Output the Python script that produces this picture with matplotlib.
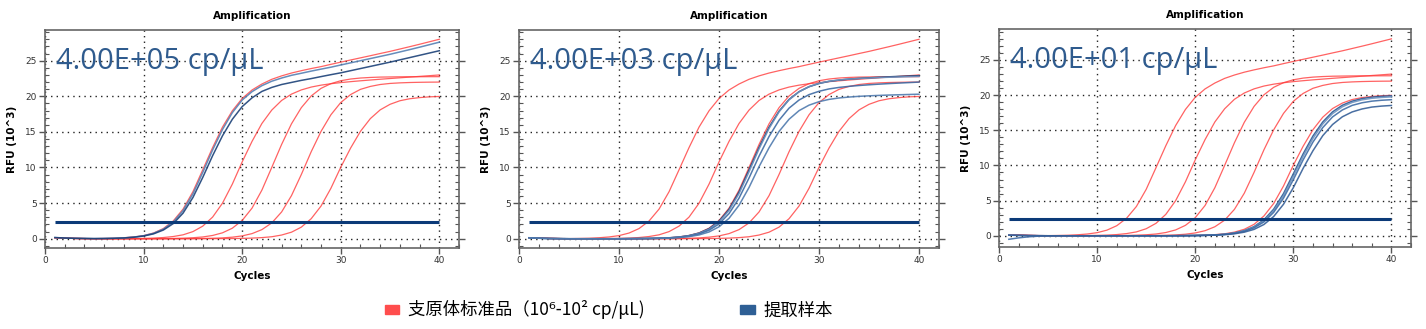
import numpy as np
import matplotlib.pyplot as plt
from matplotlib.patches import Patch
from matplotlib.ticker import MultipleLocator
from matplotlib.font_manager import FontProperties

plt.rcParams['font.family'] = ['DejaVu Sans']

cycles = np.arange(1, 41)
threshold = 2.4

# standard curves, 10^6 .. 10^2 cp/uL (RFU x 10^3 per cycle)
std_1e6 = [0.15, 0.08, 0.04, 0.03, 0.02, 0.04, 0.07, 0.14, 0.25, 0.44,
           0.80, 1.43, 2.49, 4.16, 6.60, 9.68, 12.80, 15.67, 17.96, 19.69,
           20.88, 21.72, 22.38, 22.86, 23.26, 23.59, 23.89, 24.16, 24.48, 24.79,
           25.09, 25.39, 25.69, 26.00, 26.30, 26.63, 26.96, 27.30, 27.65, 28.00]
std_1e5 = [0.15, 0.08, 0.04, 0.02, 0.00, 0.00, 0.01, 0.02, 0.03, 0.05,
           0.09, 0.17, 0.31, 0.55, 1.00, 1.77, 3.04, 4.99, 7.67, 10.79,
           13.67, 16.18, 18.06, 19.41, 20.30, 20.89, 21.29, 21.56, 21.76, 21.92,
           22.05, 22.17, 22.28, 22.39, 22.49, 22.59, 22.69, 22.79, 22.89, 22.99]
std_1e4 = [0.15, 0.08, 0.04, 0.02, 0.00, 0.00, 0.00, 0.00, 0.00, 0.00,
           0.01, 0.02, 0.04, 0.08, 0.14, 0.25, 0.46, 0.83, 1.48, 2.57,
           4.30, 6.83, 10.01, 13.24, 16.13, 18.40, 20.04, 21.11, 21.77, 22.18,
           22.42, 22.56, 22.64, 22.69, 22.71, 22.73, 22.74, 22.74, 22.75, 22.75]
std_1e3 = [0.15, 0.08, 0.04, 0.02, 0.00, 0.00, 0.00, 0.00, 0.00, 0.00,
           0.00, 0.00, 0.00, 0.01, 0.02, 0.04, 0.07, 0.12, 0.22, 0.40,
           0.72, 1.28, 2.22, 3.76, 6.05, 9.02, 12.21, 15.07, 17.40, 19.12,
           20.24, 20.97, 21.38, 21.65, 21.80, 21.88, 21.93, 21.96, 21.98, 21.99]
std_1e2 = [0.15, 0.08, 0.04, 0.02, 0.00, 0.00, 0.00, 0.00, 0.00, 0.00,
           0.00, 0.00, 0.00, 0.00, 0.00, 0.00, 0.01, 0.02, 0.03, 0.05,
           0.09, 0.16, 0.28, 0.52, 0.92, 1.63, 2.81, 4.59, 7.08, 10.03,
           12.73, 15.08, 16.86, 18.09, 18.87, 19.37, 19.65, 19.81, 19.92, 19.97]
standards = [std_1e6, std_1e5, std_1e4, std_1e3, std_1e2]

# extracted samples
s4e5_a = [0.16, 0.10, 0.06, 0.04, 0.02, 0.04, 0.07, 0.12, 0.23, 0.42,
          0.76, 1.34, 2.34, 3.94, 6.29, 9.31, 12.46, 15.33, 17.70, 19.47,
          20.65, 21.49, 22.11, 22.56, 22.94, 23.23, 23.53, 23.81, 24.08, 24.39,
          24.69, 24.99, 25.29, 25.59, 25.89, 26.22, 26.55, 26.89, 27.24, 27.59]
s4e5_b = [0.17, 0.10, 0.06, 0.04, 0.02, 0.03, 0.06, 0.11, 0.21, 0.38,
          0.68, 1.22, 2.12, 3.59, 5.78, 8.61, 11.66, 14.45, 16.77, 18.55,
          19.78, 20.68, 21.24, 21.65, 21.94, 22.23, 22.48, 22.76, 23.03, 23.29,
          23.59, 23.89, 24.19, 24.49, 24.79, 25.11, 25.43, 25.75, 26.07, 26.39]

s4e3_a = [0.14, 0.08, 0.04, 0.02, 0.00, 0.00, 0.00, 0.00, 0.00, 0.00,
          0.01, 0.02, 0.04, 0.07, 0.13, 0.24, 0.44, 0.79, 1.41, 2.46,
          4.13, 6.57, 9.67, 12.82, 15.65, 17.90, 19.55, 20.64, 21.34, 21.79,
          22.09, 22.27, 22.41, 22.51, 22.59, 22.66, 22.73, 22.79, 22.84, 22.89]
s4e3_b = [0.13, 0.07, 0.03, 0.01, 0.00, 0.00, 0.00, 0.00, 0.00, 0.00,
          0.01, 0.02, 0.04, 0.07, 0.12, 0.23, 0.42, 0.76, 1.35, 2.35,
          3.97, 6.34, 9.40, 12.61, 15.47, 17.81, 19.50, 20.62, 21.35, 21.82,
          22.10, 22.28, 22.41, 22.49, 22.56, 22.62, 22.67, 22.71, 22.75, 22.79]
s4e3_c = [0.13, 0.07, 0.03, 0.01, 0.00, 0.00, 0.00, 0.00, 0.00, 0.00,
          0.01, 0.02, 0.03, 0.06, 0.11, 0.20, 0.37, 0.66, 1.19, 2.08,
          3.53, 5.70, 8.53, 11.59, 14.35, 16.63, 18.33, 19.47, 20.23, 20.70,
          21.03, 21.24, 21.39, 21.51, 21.61, 21.70, 21.78, 21.85, 21.92, 21.99]
s4e3_d = [0.12, 0.07, 0.03, 0.01, 0.00, 0.00, 0.00, 0.00, 0.00, 0.00,
          0.01, 0.02, 0.03, 0.05, 0.09, 0.16, 0.29, 0.53, 0.95, 1.68,
          2.87, 4.70, 7.20, 10.11, 12.77, 15.06, 16.77, 17.98, 18.75, 19.24,
          19.56, 19.76, 19.89, 19.99, 20.06, 20.12, 20.17, 20.21, 20.25, 20.29]

s4e1_a = [0.10, 0.06, 0.03, 0.01, 0.00, 0.00, 0.00, 0.00, 0.00, 0.00,
          0.00, 0.00, 0.00, 0.00, 0.00, 0.00, 0.00, 0.01, 0.02, 0.04,
          0.07, 0.12, 0.22, 0.40, 0.73, 1.30, 2.26, 3.78, 6.00, 8.80,
          11.64, 14.18, 16.18, 17.62, 18.56, 19.14, 19.50, 19.71, 19.83, 19.90]
s4e1_b = [0.10, 0.06, 0.03, 0.01, 0.00, 0.00, 0.00, 0.00, 0.00, 0.00,
          0.00, 0.00, 0.00, 0.00, 0.00, 0.00, 0.00, 0.01, 0.02, 0.03,
          0.06, 0.11, 0.21, 0.38, 0.68, 1.22, 2.12, 3.57, 5.70, 8.44,
          11.29, 13.84, 15.90, 17.37, 18.34, 18.96, 19.33, 19.55, 19.67, 19.75]
s4e1_c = [-0.50, -0.30, -0.15, -0.06, -0.02, 0.00, 0.00, 0.00, 0.00, 0.00,
          0.00, 0.00, 0.00, 0.00, 0.00, 0.00, 0.00, 0.01, 0.02, 0.03,
          0.06, 0.11, 0.19, 0.35, 0.63, 1.13, 1.96, 3.33, 5.35, 7.97,
          10.79, 13.32, 15.38, 16.90, 17.89, 18.54, 18.91, 19.14, 19.27, 19.35]
s4e1_d = [0.08, 0.05, 0.02, 0.01, 0.00, 0.00, 0.00, 0.00, 0.00, 0.00,
          0.00, 0.00, 0.00, 0.00, 0.00, 0.00, 0.00, 0.00, 0.01, 0.03,
          0.05, 0.08, 0.15, 0.28, 0.51, 0.91, 1.60, 2.74, 4.48, 6.84,
          9.59, 12.09, 14.23, 15.82, 16.92, 17.61, 18.03, 18.30, 18.44, 18.53]

panel_labels = ['4.00E+05 cp/μL', '4.00E+03 cp/μL', '4.00E+01 cp/μL']
panel_samples = [[s4e5_a, s4e5_b],
                 [s4e3_a, s4e3_b, s4e3_c, s4e3_d],
                 [s4e1_a, s4e1_b, s4e1_c, s4e1_d]]
sample_colors = [['#5580b3', '#1c4178'],
                 ['#17386b', '#6d93c0', '#3d6aa3', '#4f7aae'],
                 ['#2b5892', '#6d93c0', '#3f6ca5', '#355f98']]

red = '#ff3b3b'
navy = '#0b3a78'

fig = plt.figure(figsize=(14.26, 3.29), dpi=100)
boxes = [(0.0316, 0.2462, 0.2903, 0.6626),
         (0.3640, 0.2462, 0.2945, 0.6626),
         (0.7006, 0.2492, 0.2889, 0.6626)]
ylims = [(-1.3, 29.3), (-1.3, 29.3), (-1.6, 29.4)]

for box, ylim, label, samples, colors in zip(boxes, ylims, panel_labels,
                                             panel_samples, sample_colors):
    ax = fig.add_axes(box)
    for curve in standards:
        ax.plot(cycles, curve, color=red, lw=0.9, alpha=0.8, zorder=3)
    for curve, c in zip(samples, colors):
        ax.plot(cycles, curve, color=c, lw=1.1, alpha=0.9, zorder=4)
    ax.hlines(threshold, cycles[0], cycles[-1], color=navy, lw=2.2, zorder=5)

    ax.set_xlim(0, 42)
    ax.set_ylim(*ylim)
    ax.xaxis.set_major_locator(MultipleLocator(10))
    ax.xaxis.set_minor_locator(MultipleLocator(2))
    ax.yaxis.set_major_locator(MultipleLocator(5))
    ax.yaxis.set_minor_locator(MultipleLocator(1))
    ax.grid(True, which='major', linestyle=(0, (1, 3)), color='#222222', lw=1.0)
    ax.tick_params(which='major', direction='out', length=4, width=1.0,
                   labelsize=6.5, labelcolor='#333333', color='#555555', pad=2)
    ax.tick_params(which='minor', direction='in', length=3, width=0.8,
                   color='#555555')
    ax.tick_params(axis='y', which='both', right=True)
    for sp in ax.spines.values():
        sp.set_color('#666666')
        sp.set_linewidth(1.2)

    ax.set_title('Amplification', fontsize=7.5, fontweight='bold', pad=8)
    ax.set_xlabel('Cycles', fontsize=7.5, fontweight='bold', labelpad=4)
    ax.set_ylabel('RFU (10^3)', fontsize=7.5, fontweight='bold', labelpad=6)
    ax.text(1.1, 23.8, label, fontsize=21, color='#2f5b8e',
            family=['Open Sans', 'DejaVu Sans'], zorder=6)

handles = [Patch(color='#ff4d4d', label='支原体标准品（10⁶-10² cp/μL)'),
           Patch(color='#2e5f95', label='提取样本')]
fig.legend(handles=handles, loc='center', bbox_to_anchor=(0.427, 0.058),
           ncol=2, frameon=False,
           prop=FontProperties(family=['Noto Sans CJK SC', 'DejaVu Sans'], size=12.5),
           handlelength=0.85, handleheight=0.42, columnspacing=5.5,
           handletextpad=0.5)

fig.savefig('out.png', dpi=100)
